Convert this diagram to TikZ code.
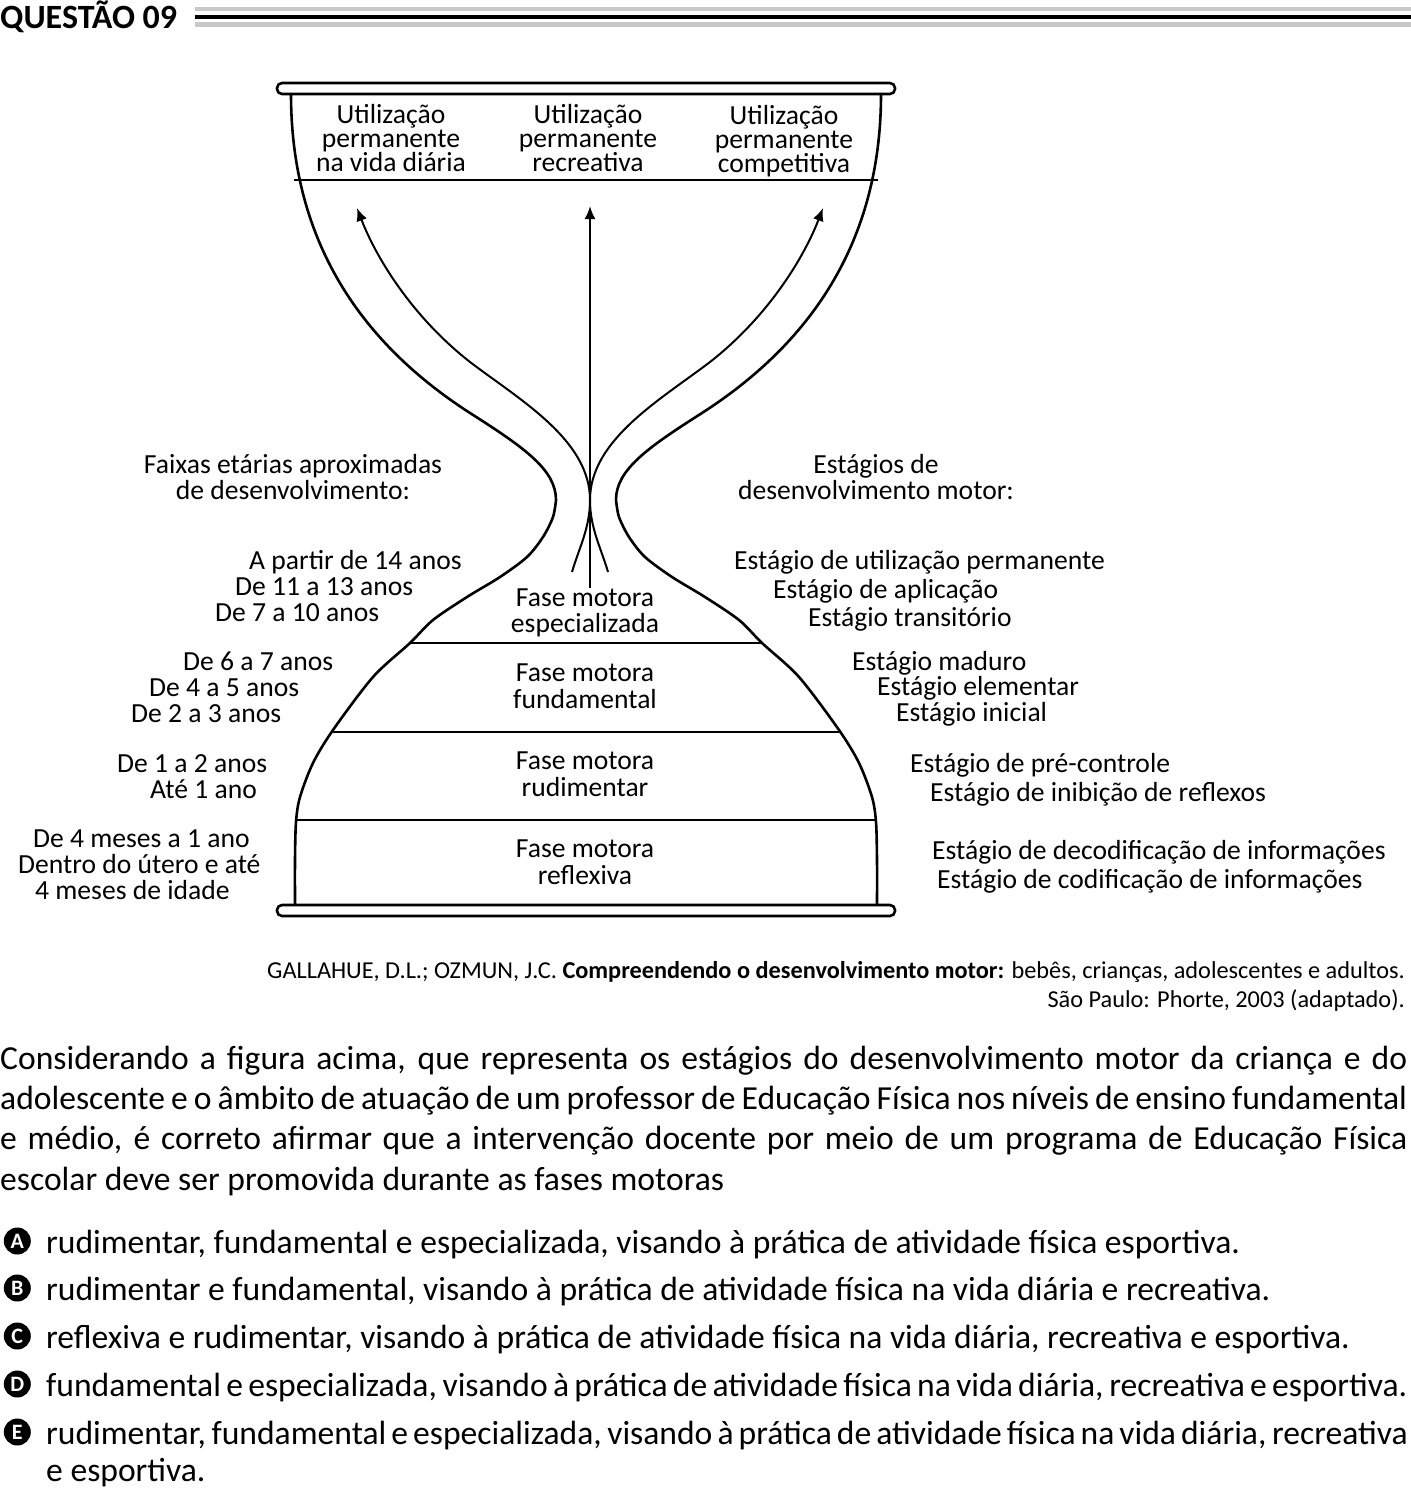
\documentclass[tikz,border=0pt]{standalone}
\usepackage{fontspec}
\setmainfont{Carlito}
\usepackage{tikz}
\usetikzlibrary{arrows.meta, positioning}
\definecolor{rulegray}{HTML}{C8C8C8}

\begin{document}
\begin{tikzpicture}[
    x=1pt, y=-1pt,
    txt/.style   = {font=\fontsize{27.6}{26}\selectfont, inner sep=0pt},
    lbl/.style   = {txt, anchor=base west},
    titulo/.style = {txt, align=center},
    fase/.style  = {txt, align=center, font=\fontsize{27.6}{26.5}\selectfont},
    util/.style  = {txt, align=center, font=\fontsize{27.6}{24.2}\selectfont},
    body/.style  = {font=\fontsize{33.6}{40}\selectfont, inner sep=0pt, anchor=base west},
    badge/.style = {circle, fill=black, text=white, inner sep=0pt,
                    minimum size=27pt, font=\fontsize{22}{22}\selectfont\bfseries},
    cite/.style  = {font=\fontsize{24.3}{29}\selectfont, inner sep=0pt, anchor=base east},
    wall/.style  = {line width=2.6pt, line join=round},
    arr/.style   = {line width=2pt},
    >={Latex[length=13pt,width=11pt]}
  ]
  \useasboundingbox (0,0) rectangle (1411,1494);
  % cabeçalho
  \node[font=\fontsize{34}{34}\selectfont\bfseries, inner sep=0pt, anchor=base west]
    (quest) at (0,28) {QUESTÃO 09};
  \draw[line width=3.2pt, rulegray] (195,9) -- (1411,9);
  \draw[line width=3.6pt] (195,16.7) -- (1411,16.7);
  \draw[line width=4.5pt, rulegray] (195,24.3) -- (1411,24.3);
  % ampulheta
  \draw[wall, rounded corners=5pt] (277,83) rectangle (895,94);
  \draw[wall, rounded corners=5pt] (277,905) rectangle (895,916);
  \foreach \s/\dx in {1/0, -1/1172} {
    \begin{scope}[shift={(\dx,0)}, xscale=\s]
      \draw[wall] (291,94) .. controls (291,260) and (380,355) .. (470,413)
        .. controls (525,448) and (556,470) .. (556,500)
        plot[smooth] coordinates {(556,500) (553,517) (543,537) (527,557)
        (500,577) (467,597) (433,620) (410,643) (373,677) (333,730) (313,763)
        (300,797) (296,822) (295,860) (295,905)};
    \end{scope}
  }
  \draw[wall] (294,180) -- (878,180);
  \draw[wall] (410,643) -- (762,643);
  \draw[wall] (333,732) -- (839,732);
  \draw[wall] (296,820) -- (876,820);
  % setas
  \coordinate (baseC) at (590,588);
  \coordinate (topoC) at (590,206);
  \draw[arr, ->] (baseC) -- (topoC);
  \foreach \s/\dx in {1/0, -1/1180} {
    \begin{scope}[shift={(\dx,0)}, xscale=\s]
      \draw[arr, ->] (572,572) .. controls (579,548) and (590,528) .. (590,500)
        .. controls (590,440) and (520,400) .. (470,362)
        .. controls (410,315) and (375,255) .. (357,208);
    \end{scope}
  }
  % topo: utilização permanente
  \node[util] (uDiaria) at (391,138) {Utilização\\permanente\\na vida diária};
  \node[util] (uRecr)   at (588,138) {Utilização\\permanente\\recreativa};
  \node[util] (uComp)   at (784,141) {Utilização\\permanente\\competitiva};
  % fases motoras
  \node[fase] (fEsp)  at (585,613) {Fase motora\\especializada};
  \node[fase] (fFund) at (585,686) {Fase motora\\fundamental};
  \node[fase] (fRud)  at (585,774) {Fase motora\\rudimentar};
  \node[fase] (fRefl) at (585,862) {Fase motora\\reflexiva};
  % faixas etárias
  \node[titulo] (faixas) at (293,477) {Faixas etárias aproximadas\\de desenvolvimento:};
  \node[lbl] (i14)  at (249,569) {A partir de 14 anos};
  \node[lbl] (i11)  at (235,595) {De 11 a 13 anos};
  \node[lbl] (i7)   at (215,621) {De 7 a 10 anos};
  \node[lbl] (i6)   at (183,670) {De 6 a 7 anos};
  \node[lbl] (i4)   at (149,696) {De 4 a 5 anos};
  \node[lbl] (i2)   at (131,722) {De 2 a 3 anos};
  \node[lbl] (i1)   at (117,772) {De 1 a 2 anos};
  \node[lbl] (i0)   at (150,798) {Até 1 ano};
  \node[lbl] (im4)  at (33,847)  {De 4 meses a 1 ano};
  \node[lbl] (iut)  at (18,873)  {Dentro do útero e até};
  \node[lbl] (iut2) at (35,899)  {4 meses de idade};
  % estágios
  \node[titulo] (estagios) at (876,477) {Estágios de\\desenvolvimento motor:};
  \node[lbl] (eUtil)  at (734,569) {Estágio de utilização permanente};
  \node[lbl] (eApl)   at (773,598) {Estágio de aplicação};
  \node[lbl] (eTrans) at (808,626) {Estágio transitório};
  \node[lbl] (eMad)   at (852,670) {Estágio maduro};
  \node[lbl] (eElem)  at (877,695) {Estágio elementar};
  \node[lbl] (eIni)   at (896,721) {Estágio inicial};
  \node[lbl] (ePre)   at (910,772) {Estágio de pré-controle};
  \node[lbl] (eInib)  at (930,801) {Estágio de inibição de reflexos};
  \node[lbl] (eDec)   at (932,859) {Estágio de decodificação de informações};
  \node[lbl] (eCod)   at (937,888) {Estágio de codificação de informações};
  % referência
  \node[cite] (ref1) at (1405,978) {GALLAHUE, D.L.; OZMUN, J.C. \textbf{Compreendendo o desenvolvimento motor:} bebês, crianças, adolescentes e adultos.};
  \node[cite] (ref2) at (1405,1007) {São Paulo: Phorte, 2003 (adaptado).};
  % enunciado
  \node[body] (l1) at (0,1069) {\makebox[1407pt][s]{Considerando a figura acima, que representa os estágios do desenvolvimento motor da criança e do}};
  \node[body] (l2) at (0,1109) {\makebox[1407pt][s]{adolescente e o âmbito de atuação de um professor de Educação Física nos níveis de ensino fundamental}};
  \node[body] (l3) at (0,1149) {\makebox[1407pt][s]{e médio, é correto afirmar que a intervenção docente por meio de um programa de Educação Física}};
  \node[body] (l4) at (0,1190) {escolar deve ser promovida durante as fases motoras};
  % alternativas
  \node[body] (ta) at (46,1253) {rudimentar, fundamental e especializada, visando à prática de atividade física esportiva.};
  \node[body] (tb) at (46,1300) {rudimentar e fundamental, visando à prática de atividade física na vida diária e recreativa.};
  \node[body] (tc) at (46,1348) {reflexiva e rudimentar, visando à prática de atividade física na vida diária, recreativa e esportiva.};
  \node[body] (td) at (46,1396) {\makebox[1361pt][s]{fundamental e especializada, visando à prática de atividade física na vida diária, recreativa e esportiva.}};
  \node[body] (te) at (46,1444) {\makebox[1361pt][s]{rudimentar, fundamental e especializada, visando à prática de atividade física na vida diária, recreativa}};
  \node[body] (te2) at (46,1481) {e esportiva.};
  \foreach \t/\l in {ta/A, tb/B, tc/C, td/D, te/E}
    \node[badge, left=15pt of \t.base west, yshift=12pt] (o\l) {\l};
\end{tikzpicture}
\end{document}
